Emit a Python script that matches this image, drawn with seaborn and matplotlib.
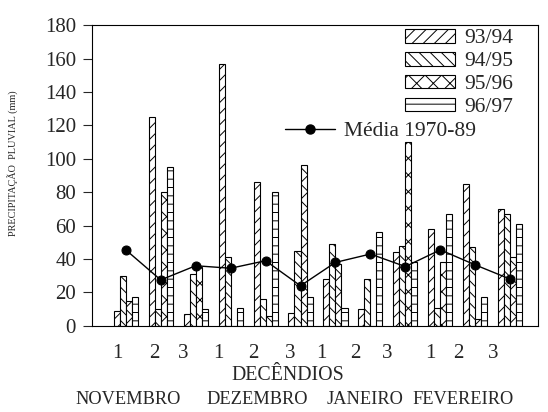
import numpy as np
import pandas as pd
import matplotlib
matplotlib.use("Agg")
import matplotlib.pyplot as plt
import matplotlib.patches as mpatches
from matplotlib.lines import Line2D
import seaborn as sns

# ----------------------------------------------
# Data
# ----------------------------------------------
decendios = ["1", "2", "3", "1", "2", "3", "1", "2", "3", "1", "2", "3"]
meses = ["NOVEMBRO", "DEZEMBRO", "JANEIRO", "FEVEREIRO"]
safras = ["93/94", "94/95", "95/96", "96/97"]
s9394 = [9, 125, 7, 157, 86, 8, 28, 10, 44, 58, 85, 70]
s9495 = [30, 10, 31, 41, 16, 45, 49, 28, 48, 11, 47, 67]
s9596 = [15, 80, 35, 0, 6, 96, 37, 0, 110, 38, 4, 41]
s9697 = [17, 95, 10, 11, 80, 17, 11, 56, 38, 67, 17, 61]
media = [45.5, 27.5, 36, 34.5, 39, 24, 38, 43, 35.5, 45.5, 36.5, 28]

periodo = list(range(len(decendios)))
df = pd.DataFrame({
    "periodo": periodo * 4,
    "safra": np.repeat(safras, len(periodo)),
    "chuva": s9394 + s9495 + s9596 + s9697,
})

# ----------------------------------------------
# Style
# ----------------------------------------------
sns.set_style("ticks")
plt.rcParams["font.family"] = ["Liberation Serif", "DejaVu Serif"]
plt.rcParams["hatch.linewidth"] = 0.7
hatches = ["///", "\\\\\\", "xx", "--"]

fig = plt.figure(figsize=(5.48, 4.12), dpi=100)
ax = fig.add_axes([0.168, 0.209, 0.814, 0.730])

sns.barplot(data=df, x="periodo", y="chuva", hue="safra", hue_order=safras,
            width=0.69, color="white", edgecolor="black", linewidth=0.8,
            native_scale=True, legend=False, ax=ax)
for cont, h in zip(ax.containers, hatches):
    for p in cont.patches:
        p.set_facecolor("white")
        p.set_hatch(h)

sns.lineplot(x=periodo, y=media, color="black", marker="o", markersize=6.5,
             markeredgecolor="black", linewidth=1, ax=ax)

# axes
ax.set_xlim(-0.965, 11.8)
ax.set_ylim(0, 180)
ax.set_yticks(range(0, 181, 20))
ax.tick_params(axis="y", length=6.5, width=0.8, labelsize=15, pad=5)
tick_pos = [-0.25, 0.81, 1.64, 2.64, 3.64, 4.70, 5.61, 6.56, 7.48, 8.71, 9.51, 10.52]
ax.set_xticks(tick_pos, decendios)
ax.tick_params(axis="x", length=0, labelsize=15, pad=13)
ax.set_xlabel("")
ax.set_ylabel("")
for s in ax.spines.values():
    s.set_linewidth(0.8)
    s.set_color("black")

fig.text(288 / 548, 1 - 375 / 412, "DECÊNDIOS", ha="center", va="center", fontsize=14.3)
mes_x = [128, 257, 365, 463]
for m, x in zip(meses, mes_x):
    fig.text(x / 548, 1 - 400 / 412, m, ha="center", va="center", fontsize=13.2)
fig.text(13.5 / 548, 1 - 163 / 412, "PRECIPITAÇÃO  PLUVIAL (mm)", rotation=90,
         ha="center", va="center", fontsize=7.4)

# legends
bar_handles = [mpatches.Patch(facecolor="white", edgecolor="black", hatch=h, linewidth=0.8)
               for h in hatches]
leg1 = ax.legend(bar_handles, safras, loc="upper left",
                 bbox_to_anchor=(405 / 548, 1 - 29 / 412), bbox_transform=fig.transFigure,
                 frameon=False, fontsize=15.5, handlelength=2.3, handleheight=0.6,
                 labelspacing=0.16, handletextpad=0.45, borderpad=0, borderaxespad=0)
ax.add_artist(leg1)
line_handle = Line2D([], [], color="black", marker="o", markersize=6.5, linewidth=1)
ax.legend([line_handle], ["Média 1970-89"], loc="upper left",
          bbox_to_anchor=(285 / 548, 1 - 121 / 412), bbox_transform=fig.transFigure,
          frameon=False, fontsize=15.5, handlelength=2.3, handletextpad=0.45,
          borderpad=0, borderaxespad=0)

fig.savefig("out.png", dpi=100)
